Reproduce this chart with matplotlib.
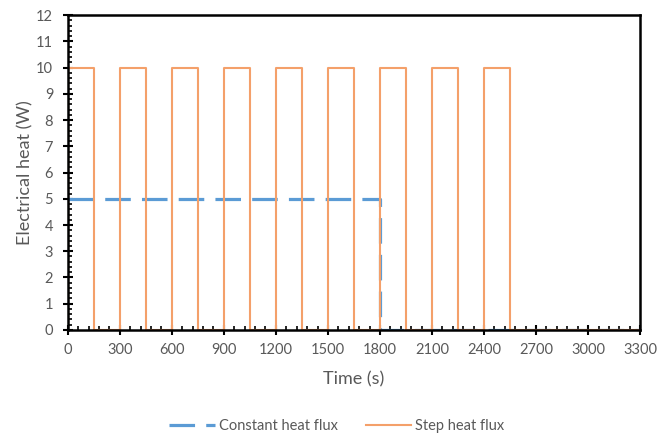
import matplotlib
matplotlib.use("Agg")
import matplotlib.pyplot as plt
from matplotlib.ticker import MultipleLocator

# Data
pulse_starts = [0, 300, 600, 900, 1200, 1500, 1800, 2100, 2400]
pulse_length = 150
pulse_power = 10
end_time = 3300

step_t, step_p = [], []
for s in pulse_starts:
    step_t += [s, s, s + pulse_length, s + pulse_length]
    step_p += [0, pulse_power, pulse_power, 0]
step_t += [end_time]
step_p += [0]

const_t = [0, 1800, 1800, 3300]
const_p = [5, 5, 0, 0]

plt.rcParams['font.family'] = ['Lato', 'DejaVu Sans']
gray = '#595959'

fig = plt.figure(figsize=(6.71, 4.33), dpi=100)
ax = fig.add_axes([0.101, 0.238, 0.853, 0.727])

l1, = ax.plot(const_t, const_p, color='#5B9BD5', lw=2.3, dashes=(8, 3.5), label='Constant heat flux')
l2, = ax.plot(step_t, step_p, color='#F4A06A', lw=1.5, label='Step heat flux')

ax.set_xlim(0, 3300)
ax.set_ylim(0, 12)
ax.xaxis.set_major_locator(MultipleLocator(300))
ax.xaxis.set_minor_locator(MultipleLocator(60))
ax.yaxis.set_major_locator(MultipleLocator(1))
ax.yaxis.set_minor_locator(MultipleLocator(0.2))
ax.tick_params(axis='both', which='major', direction='inout', length=7, width=1.5, colors='black', labelcolor=gray, labelsize=10.5)
ax.tick_params(axis='both', which='minor', direction='in', length=3, width=1.2, colors='black')
ax.tick_params(axis='x', pad=6)
ax.tick_params(axis='y', pad=7)
for sp_ in ax.spines.values():
    sp_.set_linewidth(1.8)
    sp_.set_color('black')

ax.set_xlabel('Time (s)', fontsize=13, color=gray, labelpad=10)
ax.set_ylabel('Electrical heat (W)', fontsize=13, color=gray, labelpad=2)

fig.legend(handles=[l1, l2], loc='center', bbox_to_anchor=(0.502, 1 - 426 / 433), ncol=2,
           frameon=False, fontsize=10.5, labelcolor=gray, handlelength=3.1,
           handletextpad=0.3, columnspacing=1.9)

fig.savefig('out.png', dpi=100)
